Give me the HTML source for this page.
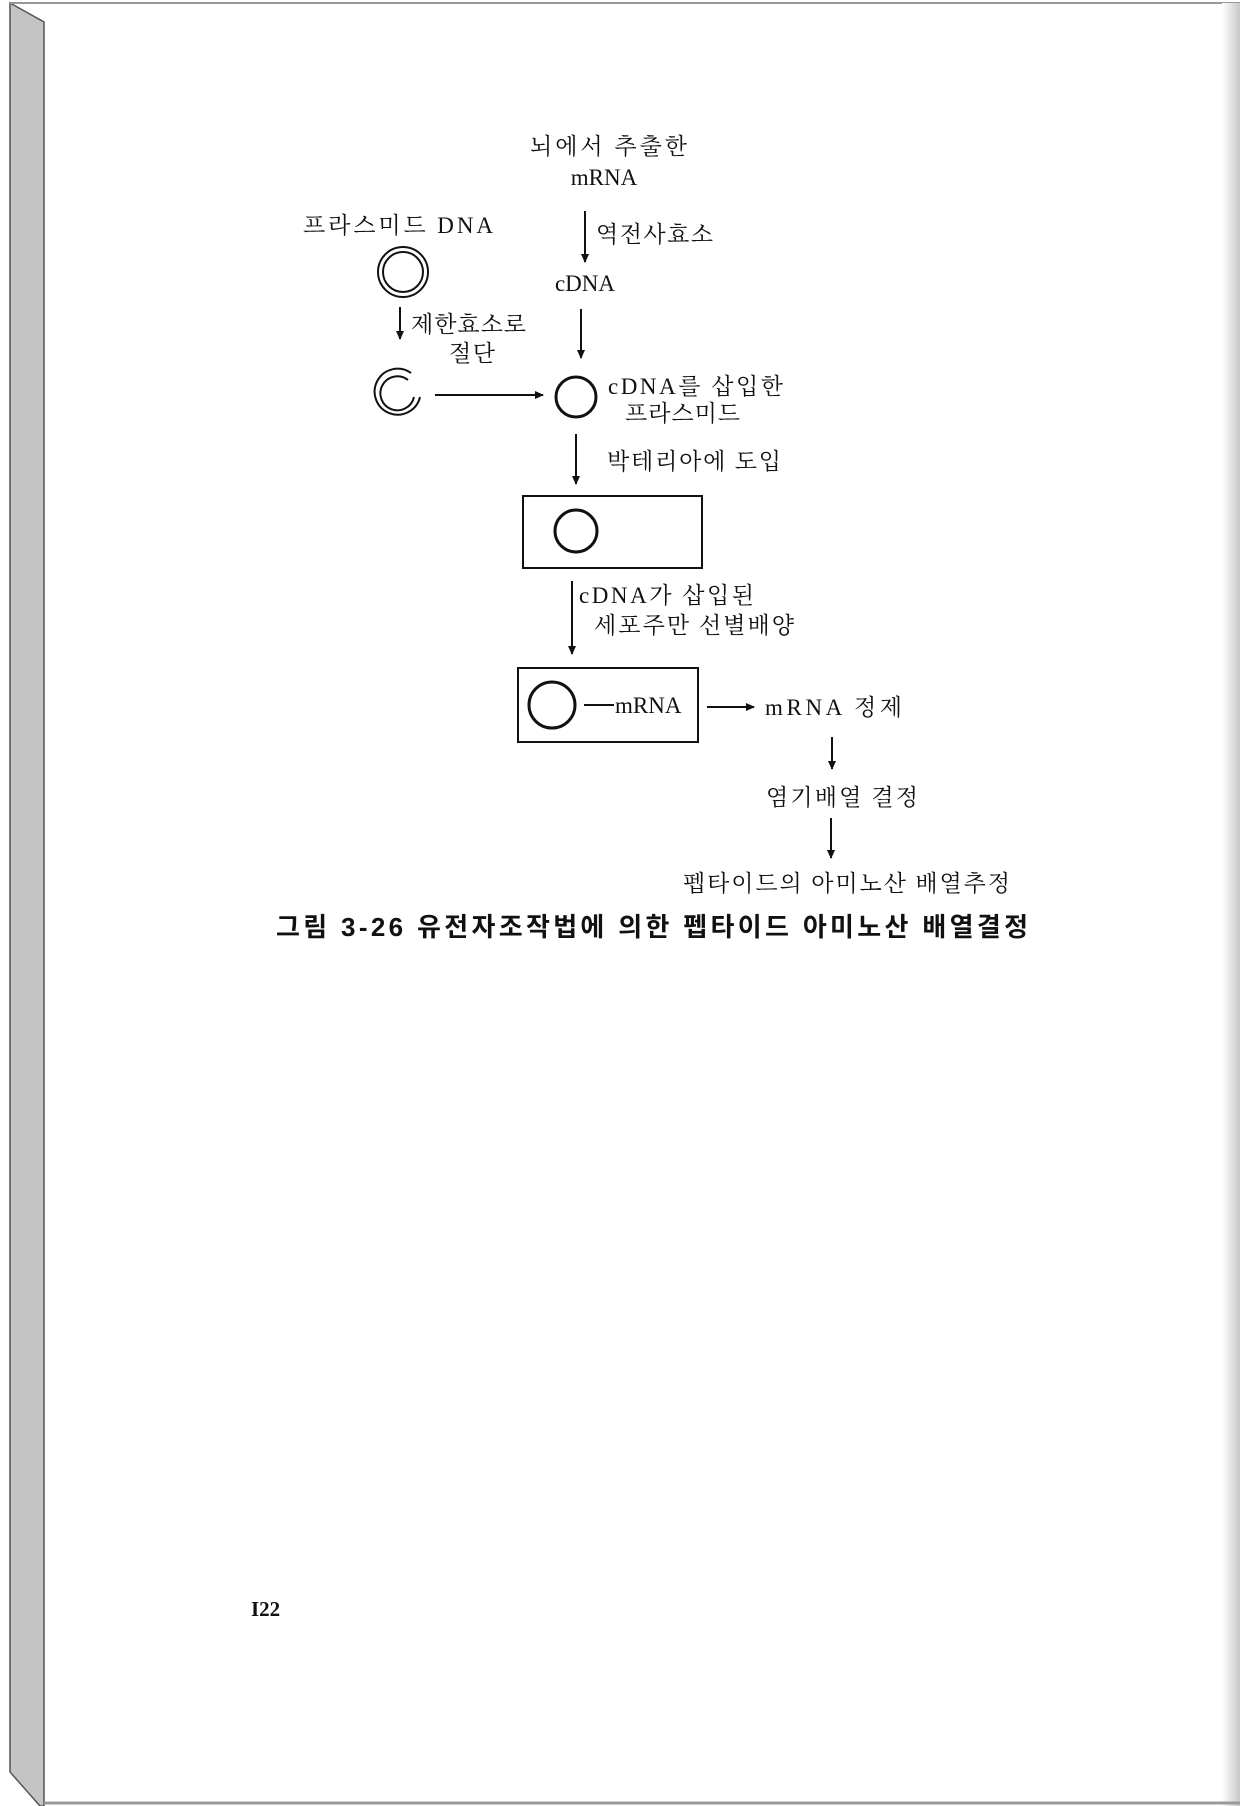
<!DOCTYPE html>
<html><head><meta charset="utf-8"><style>
html,body{margin:0;padding:0;background:#fff}
svg{display:block}
text{font-family:"Liberation Serif","Noto Serif CJK SC","NanumGothic",serif;font-size:23px;fill:#111}
.b{font-family:"Liberation Sans","Noto Sans CJK KR",sans-serif;font-weight:bold;font-size:26px}
</style></head><body>
<svg width="1240" height="1806" viewBox="0 0 1240 1806" xmlns="http://www.w3.org/2000/svg">
<defs>
<marker id="a" markerWidth="10" markerHeight="10" refX="8" refY="5" orient="auto" markerUnits="userSpaceOnUse"><path d="M0,1 L9,5 L0,9 Z" fill="#111"/></marker>
<linearGradient id="rg" x1="0" x2="1"><stop offset="0" stop-color="#fff"/><stop offset="1" stop-color="#c8c8c8"/></linearGradient>
</defs>
<rect width="1240" height="1806" fill="#fff"/>
<polygon points="10,3 44,22 44,1806 40,1806 10,1772" fill="#c4c4c4" stroke="#555" stroke-width="1.5"/>
<line x1="10" y1="3" x2="1240" y2="3" stroke="#999" stroke-width="2"/>
<rect x="1222" y="3" width="18" height="1803" fill="url(#rg)"/>
<line x1="44" y1="1803" x2="1240" y2="1803" stroke="#999" stroke-width="3"/>
<g stroke="#111" stroke-width="2" fill="none">
<line x1="585" y1="211" x2="585" y2="262" marker-end="url(#a)"/>
<line x1="400" y1="307" x2="400" y2="339" marker-end="url(#a)"/>
<line x1="581" y1="309" x2="581" y2="358" marker-end="url(#a)"/>
<line x1="435" y1="395" x2="543" y2="395" marker-end="url(#a)"/>
<line x1="576" y1="434" x2="576" y2="484" marker-end="url(#a)"/>
<line x1="572" y1="581" x2="572" y2="654" marker-end="url(#a)"/>
<line x1="707" y1="707" x2="754" y2="707" marker-end="url(#a)"/>
<line x1="832" y1="737" x2="832" y2="769" marker-end="url(#a)"/>
<line x1="831" y1="818" x2="831" y2="858" marker-end="url(#a)"/>
<circle cx="403" cy="272" r="25"/>
<circle cx="403" cy="272" r="20"/>
<path d="M411,373 A23,23 0 1 0 420,397"/>
<path d="M408,380 A17,17 0 1 0 414,397"/>
<circle cx="576" cy="397" r="20" stroke-width="3"/>
<rect x="523" y="496" width="179" height="72"/>
<circle cx="576" cy="531" r="21" stroke-width="3"/>
<rect x="518" y="668" width="180" height="74"/>
<circle cx="552" cy="705" r="23" stroke-width="3"/>
<line x1="584" y1="705" x2="614" y2="705"/>
</g>
<text x="530" y="154" textLength="157" lengthAdjust="spacing">뇌에서 추출한</text>
<text x="604" y="185" text-anchor="middle">mRNA</text>
<text x="303" y="233" textLength="190" lengthAdjust="spacing">프라스미드 DNA</text>
<text x="596" y="242" textLength="117" lengthAdjust="spacing">역전사효소</text>
<text x="585" y="291" text-anchor="middle">cDNA</text>
<text x="411" y="332" textLength="115" lengthAdjust="spacing">제한효소로</text>
<text x="449" y="361" textLength="46" lengthAdjust="spacing">절단</text>
<text x="608" y="394" textLength="175" lengthAdjust="spacing">cDNA를 삽입한</text>
<text x="625" y="421" textLength="115" lengthAdjust="spacing">프라스미드</text>
<text x="607" y="469" textLength="174" lengthAdjust="spacing">박테리아에 도입</text>
<text x="579" y="603" textLength="175" lengthAdjust="spacing">cDNA가 삽입된</text>
<text x="594" y="633" textLength="200" lengthAdjust="spacing">세포주만 선별배양</text>
<text x="615" y="713">mRNA</text>
<text x="765" y="715" textLength="137" lengthAdjust="spacing">mRNA 정제</text>
<text x="766" y="805" textLength="152" lengthAdjust="spacing">염기배열 결정</text>
<text x="683" y="891" textLength="327" lengthAdjust="spacing">펩타이드의 아미노산 배열추정</text>
<text class="b" x="276" y="936" textLength="752" lengthAdjust="spacing">그림 3-26  유전자조작법에 의한 펩타이드 아미노산 배열결정</text>
<text x="251" y="1616" style="font-weight:bold;font-size:21px">I22</text>
</svg>
</body></html>
